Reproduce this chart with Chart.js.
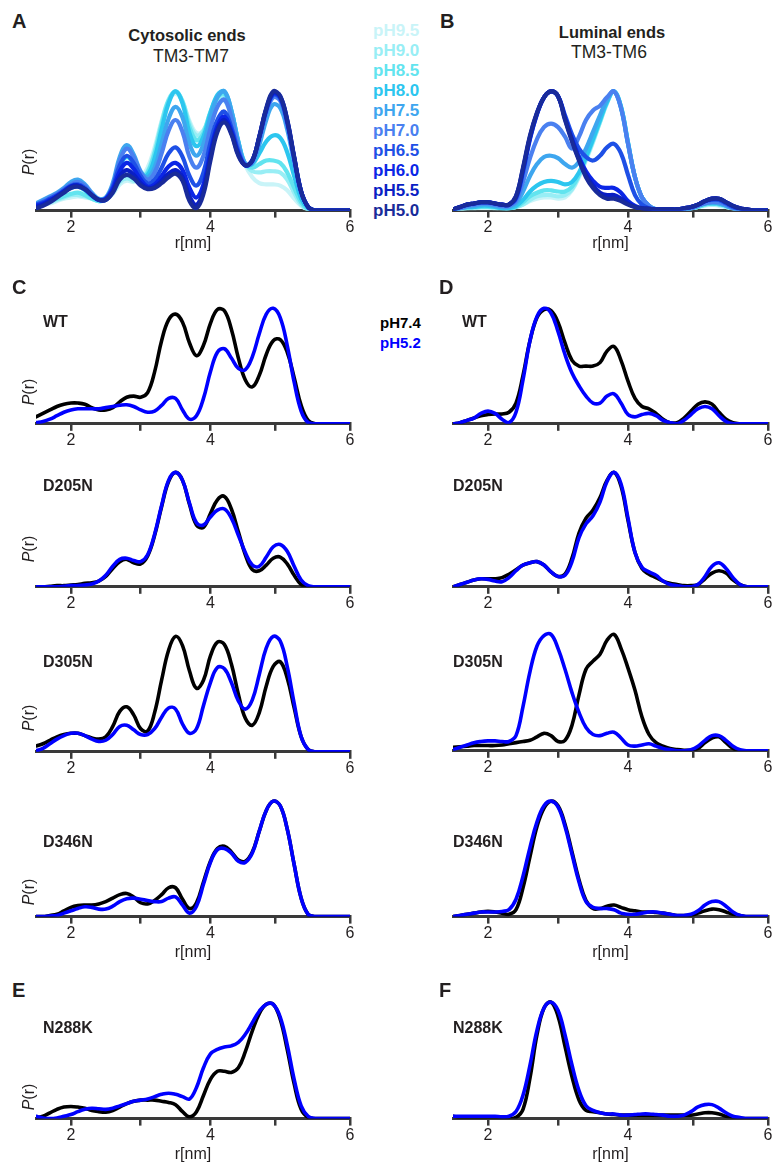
<!DOCTYPE html>
<html><head><meta charset="utf-8">
<script src="https://cdn.jsdelivr.net/npm/chart.js@4.4.1/dist/chart.umd.min.js"></script>
<style>
html,body{margin:0;padding:0;width:773px;height:1167px;overflow:hidden;background:#fff;font-family:"Liberation Sans",Arial,sans-serif;color:#231f20;}
.t{position:absolute;white-space:nowrap;line-height:1;z-index:5;}
canvas{position:absolute;z-index:1;}
</style></head><body>
<script>
// ---------- DATA ----------
const rValues = [1.5,1.6,1.7,1.8,1.9,2.0,2.1,2.2,2.3,2.4,2.5,2.6,2.7,2.8,2.9,3.0,3.1,3.2,3.3,3.4,3.5,3.6,3.7,3.8,3.9,4.0,4.1,4.2,4.3,4.4,4.5,4.6,4.7,4.8,4.9,5.0,5.1,5.2,5.3,5.4,5.5,5.6,5.7,5.8,5.9,6.0];
const tickValues = [2,3,4,4.93,6];
const tickLabelValues = [2,4,6];
const pHLabels = ['pH9.5','pH9.0','pH8.5','pH8.0','pH7.5','pH7.0','pH6.5','pH6.0','pH5.5','pH5.0'];
const pHColors = ['#c9f4f8','#98eef5','#62e4ef','#2cc6ef','#3ea6ef','#4a80f0','#1e50e6','#0b26e6','#0a1fc4','#192b9a'];
const pairLabels = ['pH7.4','pH5.2'];
const pairColors = ['#000000','#0000ff'];

// Panel A: Cytosolic ends TM3-TM7
const A_pH9_5 = [0.04,0.05,0.06,0.08,0.10,0.11,0.12,0.11,0.10,0.08, 0.09,0.14,0.22,0.25,0.24,0.27,0.36,0.53,0.75,0.92, 0.98,0.91,0.75,0.65,0.67,0.79,0.89,0.92,0.79,0.56, 0.38,0.28,0.23,0.22,0.22,0.21,0.17,0.10,0.04,0.01, 0,0,0,0,0,0];
const A_pH9_0 = [0.05,0.06,0.07,0.09,0.11,0.13,0.13,0.12,0.10,0.08, 0.09,0.15,0.24,0.27,0.25,0.26,0.33,0.50,0.74,0.93, 1.00,0.92,0.73,0.63,0.67,0.82,0.93,0.95,0.81,0.57, 0.39,0.33,0.32,0.33,0.33,0.32,0.26,0.15,0.05,0.01, 0,0,0,0,0,0];
const A_pH8_5 = [0.05,0.06,0.08,0.10,0.12,0.14,0.15,0.13,0.10,0.08, 0.09,0.16,0.26,0.30,0.27,0.26,0.32,0.48,0.72,0.92, 1.00,0.91,0.70,0.59,0.65,0.83,0.95,0.98,0.83,0.58, 0.39,0.36,0.39,0.42,0.42,0.40,0.32,0.19,0.07,0.01, 0,0,0,0,0,0];
const A_pH8_0 = [0.05,0.07,0.10,0.13,0.16,0.19,0.20,0.17,0.12,0.09, 0.10,0.20,0.37,0.45,0.39,0.29,0.30,0.44,0.68,0.90, 1.00,0.90,0.65,0.54,0.62,0.82,0.97,1.00,0.84,0.58, 0.39,0.39,0.48,0.58,0.63,0.61,0.49,0.29,0.10,0.02, 0,0,0,0,0,0];
const A_pH7_5 = [0.06,0.09,0.12,0.15,0.19,0.24,0.26,0.22,0.15,0.10, 0.11,0.23,0.45,0.55,0.47,0.33,0.28,0.36,0.56,0.77, 0.87,0.78,0.56,0.46,0.56,0.78,0.95,1.00,0.84,0.57, 0.39,0.40,0.55,0.76,0.89,0.86,0.68,0.40,0.14,0.03, 0,0,0,0,0,0];
const A_pH7_0 = [0.05,0.08,0.11,0.14,0.18,0.22,0.24,0.21,0.14,0.09, 0.10,0.21,0.42,0.52,0.45,0.32,0.26,0.32,0.48,0.67, 0.76,0.66,0.45,0.36,0.46,0.69,0.87,0.93,0.78,0.54, 0.38,0.41,0.59,0.82,0.95,0.92,0.72,0.43,0.15,0.03, 0,0,0,0,0,0];
const A_pH6_5 = [0.05,0.07,0.10,0.13,0.17,0.21,0.22,0.19,0.13,0.09, 0.10,0.20,0.38,0.46,0.40,0.29,0.23,0.26,0.36,0.48, 0.53,0.45,0.29,0.21,0.32,0.57,0.76,0.83,0.70,0.50, 0.38,0.42,0.61,0.84,0.97,0.94,0.74,0.44,0.16,0.03, 0,0,0,0,0,0];
const A_pH6_0 = [0.04,0.06,0.09,0.12,0.16,0.20,0.21,0.18,0.13,0.09, 0.10,0.18,0.33,0.40,0.35,0.26,0.20,0.22,0.29,0.37, 0.40,0.34,0.19,0.11,0.22,0.49,0.71,0.79,0.67,0.48, 0.38,0.42,0.62,0.85,0.98,0.95,0.75,0.44,0.16,0.03, 0,0,0,0,0,0];
const A_pH5_5 = [0.03,0.05,0.08,0.12,0.16,0.20,0.21,0.18,0.13,0.09, 0.09,0.16,0.29,0.34,0.30,0.23,0.19,0.20,0.25,0.31, 0.34,0.28,0.12,0.05,0.17,0.45,0.68,0.76,0.65,0.47, 0.38,0.42,0.62,0.85,0.99,0.96,0.76,0.45,0.16,0.03, 0,0,0,0,0,0];
const A_pH5_0 = [0.02,0.04,0.07,0.11,0.15,0.19,0.20,0.18,0.13,0.09, 0.09,0.15,0.26,0.30,0.27,0.21,0.18,0.19,0.23,0.28, 0.31,0.25,0.08,0.02,0.14,0.42,0.66,0.74,0.64,0.46, 0.38,0.42,0.62,0.86,1.00,0.96,0.76,0.45,0.16,0.03, 0,0,0,0,0,0];

// Panel B: Luminal ends TM3-TM6
const B_pH9_5 = [0.01,0.01,0.02,0.02,0.02,0.02,0.02,0.02,0.02,0.03, 0.05,0.08,0.10,0.11,0.11,0.10,0.11,0.17,0.28,0.42, 0.57,0.74,0.90,1.00,0.87,0.57,0.28,0.11,0.04,0.01, 0.01,0.01,0.01,0.01,0.02,0.03,0.04,0.05,0.04,0.03, 0.02,0.01,0,0,0,0];
const B_pH9_0 = [0.01,0.01,0.02,0.02,0.03,0.03,0.02,0.02,0.02,0.03, 0.05,0.09,0.12,0.13,0.13,0.12,0.13,0.18,0.29,0.43, 0.58,0.74,0.90,1.00,0.87,0.57,0.28,0.11,0.04,0.01, 0.01,0.01,0.01,0.01,0.02,0.03,0.05,0.05,0.05,0.03, 0.02,0.01,0,0,0,0];
const B_pH8_5 = [0.01,0.02,0.02,0.03,0.03,0.03,0.03,0.02,0.02,0.03, 0.07,0.12,0.15,0.17,0.17,0.16,0.16,0.20,0.30,0.44, 0.59,0.75,0.91,1.00,0.87,0.57,0.28,0.11,0.04,0.01, 0.01,0.01,0.01,0.01,0.02,0.03,0.05,0.06,0.05,0.04, 0.02,0.01,0,0,0,0];
const B_pH8_0 = [0.01,0.02,0.03,0.03,0.04,0.04,0.03,0.02,0.02,0.04, 0.09,0.16,0.21,0.24,0.25,0.24,0.22,0.24,0.32,0.45, 0.60,0.76,0.91,1.00,0.87,0.57,0.28,0.11,0.04,0.01, 0.01,0.01,0.01,0.01,0.02,0.04,0.06,0.06,0.06,0.04, 0.02,0.01,0,0,0,0];
const B_pH7_5 = [0.01,0.02,0.03,0.04,0.05,0.05,0.04,0.03,0.03,0.06, 0.16,0.29,0.39,0.45,0.46,0.44,0.39,0.36,0.41,0.52, 0.66,0.80,0.93,1.00,0.86,0.56,0.28,0.11,0.04,0.01, 0.01,0.01,0.01,0.01,0.02,0.04,0.06,0.07,0.06,0.04, 0.02,0.01,0,0,0,0];
const B_pH7_0 = [0.01,0.02,0.04,0.05,0.06,0.06,0.05,0.04,0.04,0.08, 0.24,0.44,0.60,0.70,0.73,0.70,0.62,0.52,0.62,0.76, 0.84,0.88,0.95,1.00,0.86,0.56,0.28,0.11,0.04,0.01, 0.01,0.01,0.01,0.01,0.02,0.04,0.06,0.07,0.07,0.05, 0.02,0.01,0,0,0,0];
const B_pH6_5 = [0.01,0.03,0.05,0.06,0.07,0.07,0.06,0.05,0.05,0.10, 0.32,0.60,0.81,0.95,1.00,0.96,0.80,0.64,0.52,0.45, 0.42,0.46,0.53,0.56,0.48,0.30,0.13,0.05,0.02,0.01, 0.01,0.01,0.01,0.02,0.03,0.05,0.08,0.09,0.09,0.06, 0.03,0.01,0,0,0,0];
const B_pH6_0 = [0.01,0.03,0.05,0.06,0.07,0.07,0.06,0.05,0.05,0.11, 0.34,0.61,0.81,0.95,1.00,0.96,0.78,0.60,0.45,0.33, 0.25,0.20,0.19,0.19,0.15,0.08,0.04,0.02,0.015,0.01, 0.01,0.01,0.01,0.02,0.03,0.05,0.08,0.10,0.10,0.07, 0.04,0.02,0.01,0,0,0];
const B_pH5_5 = [0.01,0.03,0.05,0.06,0.07,0.07,0.06,0.05,0.05,0.12, 0.35,0.62,0.82,0.95,1.00,0.96,0.77,0.59,0.43,0.30, 0.21,0.15,0.13,0.13,0.10,0.06,0.03,0.02,0.015,0.01, 0.01,0.01,0.01,0.02,0.03,0.05,0.08,0.10,0.10,0.07, 0.04,0.02,0.01,0,0,0];
const B_pH5_0 = [0.01,0.03,0.05,0.06,0.07,0.07,0.06,0.05,0.05,0.12, 0.36,0.63,0.82,0.95,1.00,0.96,0.76,0.58,0.42,0.28, 0.19,0.13,0.10,0.10,0.08,0.05,0.03,0.02,0.015,0.01, 0.01,0.01,0.01,0.02,0.03,0.05,0.08,0.10,0.10,0.07, 0.04,0.02,0.01,0,0,0];

// Panels C (cytosolic) - pH7.4 / pH5.2
const C_WT_74    = [0.06,0.09,0.12,0.15,0.17,0.18,0.18,0.17,0.14,0.12, 0.12,0.14,0.19,0.23,0.24,0.23,0.27,0.45,0.72,0.90, 0.95,0.88,0.70,0.59,0.68,0.87,0.99,0.98,0.82,0.57, 0.38,0.32,0.42,0.60,0.72,0.73,0.62,0.40,0.16,0.03, 0,0,0,0,0,0];
const C_WT_52    = [0.01,0.02,0.04,0.07,0.10,0.12,0.13,0.13,0.13,0.13, 0.14,0.15,0.16,0.165,0.15,0.12,0.10,0.11,0.16,0.22, 0.22,0.12,0.04,0.07,0.22,0.45,0.62,0.65,0.57,0.48, 0.47,0.58,0.78,0.95,1.00,0.92,0.68,0.36,0.11,0.01, 0,0,0,0,0,0];
const C_D205N_74 = [0,0,0.005,0.01,0.01,0.015,0.02,0.03,0.035,0.05, 0.09,0.16,0.22,0.24,0.21,0.20,0.27,0.45,0.70,0.92, 1.00,0.93,0.72,0.54,0.52,0.64,0.76,0.79,0.68,0.48, 0.28,0.15,0.14,0.19,0.25,0.26,0.20,0.10,0.02,0, 0,0,0,0,0,0];
const C_D205N_52 = [0,0,0,0,0.005,0.01,0.01,0.015,0.025,0.05, 0.10,0.18,0.24,0.25,0.23,0.22,0.28,0.46,0.71,0.93, 1.00,0.93,0.73,0.56,0.54,0.61,0.67,0.68,0.60,0.45, 0.30,0.19,0.18,0.26,0.35,0.37,0.31,0.18,0.06,0.01, 0,0,0,0,0,0];
const C_D305N_74 = [0.05,0.07,0.10,0.13,0.15,0.16,0.16,0.14,0.12,0.11, 0.13,0.22,0.35,0.39,0.32,0.20,0.18,0.34,0.62,0.88, 1.00,0.92,0.70,0.55,0.62,0.83,0.95,0.93,0.76,0.50, 0.29,0.23,0.34,0.57,0.74,0.78,0.64,0.38,0.13,0.02, 0,0,0,0,0,0];
const C_D305N_52 = [0.01,0.03,0.07,0.11,0.14,0.16,0.16,0.14,0.11,0.09, 0.10,0.15,0.22,0.23,0.19,0.15,0.15,0.20,0.30,0.38, 0.37,0.24,0.16,0.20,0.40,0.60,0.73,0.72,0.60,0.44, 0.37,0.45,0.67,0.90,1.00,0.96,0.74,0.42,0.13,0.02, 0,0,0,0,0,0];
const C_D346N_74 = [0,0,0.01,0.02,0.05,0.08,0.095,0.10,0.10,0.11, 0.13,0.16,0.19,0.20,0.17,0.12,0.11,0.14,0.19,0.25, 0.25,0.15,0.07,0.12,0.30,0.48,0.59,0.61,0.56,0.49, 0.48,0.56,0.74,0.92,1.00,0.96,0.76,0.45,0.16,0.02, 0,0,0,0,0,0];
const C_D346N_52 = [0,0,0.005,0.01,0.03,0.05,0.07,0.085,0.08,0.065, 0.065,0.09,0.13,0.155,0.16,0.15,0.14,0.13,0.13,0.16, 0.17,0.10,0.03,0.09,0.28,0.47,0.58,0.59,0.55,0.48, 0.47,0.55,0.74,0.92,1.00,0.96,0.76,0.45,0.16,0.02, 0,0,0,0,0,0];
// Panels D (luminal)
const D_WT_74    = [0,0.01,0.03,0.05,0.07,0.08,0.085,0.085,0.10,0.18, 0.42,0.72,0.92,0.99,0.98,0.88,0.70,0.55,0.50,0.50, 0.50,0.53,0.63,0.67,0.55,0.37,0.22,0.15,0.13,0.09, 0.04,0.01,0.01,0.05,0.11,0.17,0.19,0.17,0.10,0.04, 0.01,0,0,0,0,0];
const D_WT_52    = [0,0.01,0.03,0.05,0.09,0.11,0.09,0.04,0.01,0.10, 0.38,0.72,0.93,1.00,0.96,0.80,0.60,0.44,0.33,0.24, 0.18,0.18,0.24,0.26,0.18,0.08,0.06,0.08,0.09,0.07, 0.03,0.01,0,0.03,0.08,0.13,0.15,0.13,0.07,0.02, 0,0,0,0,0,0];
const D_D205N_74 = [0,0.02,0.04,0.06,0.07,0.07,0.07,0.08,0.11,0.15, 0.19,0.21,0.22,0.19,0.13,0.09,0.11,0.25,0.47,0.60, 0.67,0.78,0.93,1.00,0.88,0.58,0.30,0.16,0.11,0.08, 0.05,0.03,0.02,0.01,0.01,0.02,0.07,0.12,0.14,0.12, 0.06,0.02,0,0,0,0];
const D_D205N_52 = [0,0.02,0.04,0.06,0.07,0.065,0.05,0.045,0.08,0.14, 0.19,0.21,0.22,0.19,0.13,0.09,0.10,0.22,0.43,0.55, 0.62,0.74,0.92,1.00,0.90,0.60,0.30,0.17,0.13,0.10, 0.05,0.02,0.01,0,0,0.02,0.09,0.18,0.21,0.16, 0.08,0.02,0,0,0,0];
const D_D305N_74 = [0.03,0.035,0.04,0.045,0.045,0.045,0.045,0.05,0.06,0.07, 0.08,0.09,0.12,0.15,0.13,0.08,0.09,0.22,0.48,0.70, 0.77,0.83,0.95,1.00,0.88,0.71,0.52,0.29,0.14,0.07, 0.04,0.02,0.01,0.005,0.005,0.02,0.07,0.11,0.12,0.07, 0.02,0,0,0,0,0];
const D_D305N_52 = [0.01,0.03,0.05,0.07,0.08,0.085,0.085,0.08,0.08,0.13, 0.38,0.68,0.90,0.99,1.00,0.88,0.70,0.50,0.33,0.20, 0.14,0.13,0.15,0.16,0.11,0.05,0.04,0.05,0.06,0.04, 0.02,0.01,0,0,0.01,0.04,0.09,0.13,0.13,0.09, 0.04,0.01,0,0,0,0];
const D_D346N_74 = [0,0.01,0.02,0.03,0.04,0.045,0.04,0.03,0.02,0.06, 0.25,0.52,0.78,0.94,1.00,0.96,0.80,0.56,0.32,0.14, 0.07,0.07,0.09,0.10,0.08,0.06,0.05,0.04,0.04,0.035, 0.03,0.02,0.01,0.01,0.01,0.03,0.05,0.065,0.06,0.04, 0.02,0.01,0,0,0,0];
const D_D346N_52 = [0,0.01,0.02,0.03,0.04,0.04,0.04,0.045,0.06,0.15, 0.35,0.60,0.82,0.96,1.00,0.95,0.78,0.54,0.30,0.13, 0.08,0.07,0.07,0.06,0.03,0.02,0.02,0.03,0.04,0.04, 0.03,0.02,0.01,0.01,0.02,0.05,0.10,0.13,0.13,0.09, 0.04,0.01,0,0,0,0];
// Panel E (cytosolic, N288K) and F (luminal, N288K)
const E_N288K_74 = [0.005,0.02,0.05,0.08,0.10,0.105,0.10,0.09,0.07,0.06, 0.055,0.07,0.10,0.13,0.15,0.16,0.16,0.16,0.15,0.14, 0.12,0.06,0.015,0.06,0.20,0.34,0.41,0.41,0.40,0.44, 0.58,0.76,0.91,0.99,0.99,0.86,0.60,0.30,0.08,0.01, 0,0,0,0,0,0];
const E_N288K_52 = [0.02,0.005,0,0.005,0.02,0.035,0.06,0.08,0.09,0.085, 0.08,0.09,0.11,0.13,0.15,0.16,0.17,0.19,0.21,0.22, 0.21,0.19,0.17,0.27,0.44,0.56,0.60,0.62,0.63,0.66, 0.73,0.83,0.93,0.99,0.99,0.88,0.64,0.34,0.11,0.02, 0,0,0,0,0,0];
const F_N288K_74 = [0.02,0.01,0.01,0.01,0.01,0.01,0.01,0.005,0,0.01, 0.08,0.35,0.72,0.95,1.00,0.88,0.62,0.36,0.16,0.07, 0.06,0.05,0.04,0.035,0.03,0.03,0.03,0.03,0.03,0.03, 0.03,0.03,0.03,0.03,0.03,0.04,0.05,0.05,0.04,0.02, 0.01,0,0,0,0,0];
const F_N288K_52 = [0.02,0.02,0.02,0.02,0.02,0.02,0.02,0.015,0.02,0.06, 0.20,0.46,0.76,0.95,1.00,0.93,0.72,0.46,0.24,0.11, 0.07,0.05,0.04,0.04,0.03,0.03,0.035,0.04,0.04,0.035, 0.03,0.02,0.02,0.03,0.06,0.10,0.12,0.12,0.09,0.05, 0.02,0.01,0,0,0,0];

// ---------- LAYOUT ----------
const FONT = "'Liberation Sans', Arial, sans-serif";
Chart.defaults.font.family = FONT;
const LEFT = {x0: 36, x1: 350};
const RIGHT = {x0: 453, x1: 768};
const pHSeriesA = [A_pH5_0,A_pH5_5,A_pH6_0,A_pH6_5,A_pH7_0,A_pH7_5,A_pH8_0,A_pH8_5,A_pH9_0,A_pH9_5];
const pHSeriesB = [B_pH5_0,B_pH5_5,B_pH6_0,B_pH6_5,B_pH7_0,B_pH7_5,B_pH8_0,B_pH8_5,B_pH9_0,B_pH9_5];
const pHColorsTopFirst = pHColors.slice().reverse();
function pair(a74, a52){ return [{data:a52,color:pairColors[1]},{data:a74,color:pairColors[0]}]; }

const panels = [
  {col:LEFT,  axisY:211,  peakH:121, title:true,  titlePad:-3, lw:4.2, series:pHSeriesA.map((d,i)=>({data:d,color:pHColorsTopFirst[i]}))},
  {col:RIGHT, axisY:211,  peakH:121, title:true,  titlePad:-3, lw:4.2, series:pHSeriesB.map((d,i)=>({data:d,color:pHColorsTopFirst[i]}))},
  {col:LEFT,  axisY:424,  peakH:117, title:false, lw:3.6, series:pair(C_WT_74,C_WT_52)},
  {col:RIGHT, axisY:424,  peakH:117, title:false, lw:3.6, series:pair(D_WT_74,D_WT_52)},
  {col:LEFT,  axisY:587,  peakH:116, title:false, lw:3.6, series:pair(C_D205N_74,C_D205N_52)},
  {col:RIGHT, axisY:587,  peakH:116, title:false, lw:3.6, series:pair(D_D205N_74,D_D205N_52)},
  {col:LEFT,  axisY:752,  peakH:117, title:false, lw:3.6, series:pair(C_D305N_74,C_D305N_52)},
  {col:RIGHT, axisY:751,  peakH:118, title:false, lw:3.6, series:pair(D_D305N_74,D_D305N_52)},
  {col:LEFT,  axisY:916.5,peakH:117, title:true,  titlePad:0, lw:3.6, series:pair(C_D346N_74,C_D346N_52)},
  {col:RIGHT, axisY:916.5,peakH:117, title:true,  titlePad:0, lw:3.6, series:pair(D_D346N_74,D_D346N_52)},
  {col:LEFT,  axisY:1119, peakH:117, title:true,  titlePad:0, lw:3.6, series:pair(E_N288K_74,E_N288K_52)},
  {col:RIGHT, axisY:1118.5,peakH:118,title:true,  titlePad:0, lw:3.6, series:pair(F_N288K_74,F_N288K_52)}
];

function makeChart(p){
  const padL = 10, padR = 12;
  const w = (p.col.x1 - p.col.x0) + padL + padR;
  const h = Math.round(p.peakH * 1.12) + (p.title ? 50 : 30);
  const cv = document.createElement('canvas');
  cv.width = w; cv.height = h;
  cv.style.width = w + 'px'; cv.style.height = h + 'px';
  document.body.appendChild(cv);
  const chart = new Chart(cv, {
    type: 'line',
    data: {
      datasets: p.series.map(s => ({
        data: s.data.map((y,i) => ({x: rValues[i], y})),
        borderColor: s.color, borderWidth: p.lw, pointRadius: 0, tension: 0.4,
        fill: false, borderCapStyle: 'round', borderJoinStyle: 'round'
      }))
    },
    options: {
      responsive: false, animation: false, events: [],
      layout: {padding: {left: padL, right: padR, top: 0, bottom: 0}},
      plugins: {legend: {display: false}, tooltip: {enabled: false}},
      scales: {
        x: {
          type: 'linear', min: 1.5, max: 6,
          afterBuildTicks: ax => { ax.ticks = tickValues.map(v => ({value: v})); },
          ticks: {autoSkip: false, maxRotation: 0, padding: 0, color: '#231f20',
                  font: {family: FONT, size: 16},
                  callback: v => tickLabelValues.includes(v) ? String(v) : ''},
          grid: {drawOnChartArea: false, drawTicks: true, tickLength: 7, color: '#3a3a3a', lineWidth: 2.5},
          border: {display: true, color: '#3a3a3a', width: 3},
          title: {display: p.title, text: 'r[nm]', color: '#231f20', font: {family: FONT, size: 16}, padding: {top: p.titlePad || 0, bottom: 0}}
        },
        y: {display: false, min: 0, max: 1.12}
      }
    }
  });
  const ca = chart.chartArea;
  chart.options.scales.y.max = (ca.bottom - ca.top) / p.peakH;
  chart.update('none');
  const ca2 = chart.chartArea;
  cv.style.left = (p.col.x0 - ca2.left) + 'px';
  cv.style.top = (p.axisY - ca2.bottom) + 'px';
}
panels.forEach(makeChart);

function addText(html, x, y, o){
  const d = document.createElement('div');
  d.className = 't';
  d.innerHTML = html;
  d.style.left = x + 'px'; d.style.top = y + 'px';
  d.style.fontSize = o.size + 'px';
  if (o.bold) d.style.fontWeight = 'bold';
  if (o.color) d.style.color = o.color;
  let tf = o.center ? 'translate(-50%,-50%)' : 'translateY(-50%)';
  if (o.rotate) tf = 'translate(-50%,-50%) rotate(-90deg)';
  d.style.transform = tf;
  document.body.appendChild(d);
}
// panel letters
[['A',12,21],['B',440,21],['C',12,287],['D',439,287],['E',12,990],['F',439,990]].forEach(a => addText(a[0], a[1], a[2], {size:20, bold:true}));
// titles
addText('Cytosolic ends', 187, 35, {size:16.5, bold:true, center:true});
addText('TM3-TM7', 191, 57, {size:17.5, center:true});
addText('Luminal ends', 612, 32, {size:16.5, bold:true, center:true});
addText('TM3-TM6', 609, 53, {size:17.5, center:true});
// pH legend for A/B
pHLabels.forEach((t,i) => addText(t, 373, 30 + 20*i, {size:17, bold:true, color:pHColors[i]}));
// pair legend
pairLabels.forEach((t,i) => addText(t, 380, 322 + 20*i, {size:15, bold:true, color:pairColors[i]}));
// mutant labels
const mutants = [['WT',322,43,462],['D205N',486,43,453],['D305N',662,43,453],['D346N',842,43,453],['N288K',1028,43,453]];
mutants.forEach(m => { addText(m[0], m[2], m[1], {size:16, bold:true}); addText(m[0], m[3], m[1], {size:16, bold:true}); });
// P(r) labels
[162,392,549,718,892,1097].forEach(y => addText('<i>P</i>(r)', 29, y, {size:16, rotate:true}));
</script>
</body></html>
